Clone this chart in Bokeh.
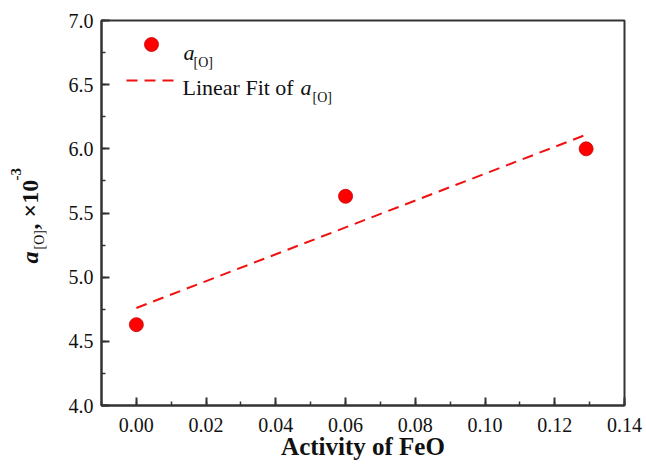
from math import pi
from bokeh.plotting import figure
from bokeh.layouts import row
from bokeh.models import Range1d, SingleIntervalTicker, NumeralTickFormatter, Label
from bokeh.embed import file_html
from bokeh.resources import INLINE

# ---- data ----
activity_feo = [0.0, 0.06, 0.129]
a_o = [4.63, 5.63, 6.00]
fit_x = [0.0, 0.129]
fit_y = [4.76, 6.11]
x_limits = [-0.01, 0.14]
y_limits = [4.0, 7.0]
x_title = "Activity of FeO"
legend_point = "a"
legend_fit = "Linear Fit of "
subscript = "[O]"
y_title_parts = ["a", "[O]", ", \u00d710", "-3"]

SERIF = "Liberation Serif"
RED = "#F01010"
AXIS = "#333333"
INK = "#111111"

# frame edges in picture pixels
FL, FR, FT, FB = 101, 624, 20, 405
W, H = 646, 473
TW = 56  # width of the strip holding the y-axis title

# ---- strip with the rotated y-axis title ----
t = figure(width=TW, height=H, output_backend="svg", toolbar_location=None,
           x_range=Range1d(0, 1), y_range=Range1d(0, 1),
           x_axis_location=None, y_axis_location=None,
           min_border_left=0, min_border_right=0, min_border_top=0,
           min_border_bottom=0)
t.outline_line_color = None
t.xgrid.visible = False
t.ygrid.visible = False

XS = -7  # measured shift of the strip's x origin

def tlab(text, px, py, size, style):
    t.add_layout(Label(x=px + XS, y=FB - py, x_units="screen", y_units="screen",
                       text=text, text_font=SERIF, text_font_size=f"{size}px",
                       text_font_style=style, text_color=INK,
                       text_baseline="alphabetic", text_align="left",
                       angle=pi / 2))

tlab(y_title_parts[0], 36, 263, 24, "bold italic")
tlab(y_title_parts[1], 46, 249, 14, "normal")
tlab(y_title_parts[2], 36, 229, 24, "bold")
tlab(y_title_parts[3], 22, 180, 15, "bold")

# ---- main plot ----
p = figure(width=W - TW, height=H, output_backend="svg", toolbar_location=None,
           x_range=Range1d(*x_limits), y_range=Range1d(*y_limits),
           min_border_left=FL - TW, min_border_right=W - FR, min_border_top=FT,
           min_border_bottom=H - FB)
p.xgrid.visible = False
p.ygrid.visible = False
p.outline_line_color = AXIS
p.outline_line_width = 2
p.outline_line_alpha = 1.0

p.xaxis.ticker = SingleIntervalTicker(interval=0.02, num_minor_ticks=2)
p.yaxis.ticker = SingleIntervalTicker(interval=0.5, num_minor_ticks=2)
p.xaxis.formatter = NumeralTickFormatter(format="0.00")
p.yaxis.formatter = NumeralTickFormatter(format="0.0")
for ax in (p.xaxis, p.yaxis):
    ax.axis_line_color = AXIS
    ax.axis_line_width = 2
    ax.major_tick_in = 8
    ax.major_tick_out = 0
    ax.minor_tick_in = 4
    ax.minor_tick_out = 0
    ax.major_tick_line_color = AXIS
    ax.minor_tick_line_color = AXIS
    ax.major_tick_line_width = 2
    ax.minor_tick_line_width = 1.5
    ax.major_label_text_font = SERIF
    ax.major_label_text_font_size = "20px"
    ax.major_label_text_color = INK
p.xaxis.major_label_standoff = 12
p.yaxis.major_label_standoff = 8
p.xaxis.axis_label = x_title
p.xaxis.axis_label_text_font = SERIF
p.xaxis.axis_label_text_font_size = "25px"
p.xaxis.axis_label_text_font_style = "bold"
p.xaxis.axis_label_text_color = INK
p.xaxis.axis_label_standoff = -2

# ---- data glyphs ----
p.line(fit_x, fit_y, line_color=RED, line_width=2, line_dash="11 7")
p.scatter(activity_feo, a_o, size=14, fill_color="#FF0000", line_color="#C00000",
          line_width=0.8)

# ---- helpers: picture pixels -> data units ----
def dx(px):
    return x_limits[0] + (px - FL) * (x_limits[1] - x_limits[0]) / (FR - FL)
def dy(py):
    return y_limits[1] - (py - FT) * (y_limits[1] - y_limits[0]) / (FB - FT)

def lab(text, px, py, size, style="normal"):
    p.add_layout(Label(x=dx(px), y=dy(py), text=text, text_font=SERIF,
                       text_font_size=f"{size}px", text_font_style=style,
                       text_color=INK, text_baseline="alphabetic",
                       text_align="left"))

# ---- legend (manual, to allow italic / subscript) ----
p.scatter([dx(151)], [dy(44)], size=14, fill_color="#FF0000", line_color="#C00000",
          line_width=0.8)
p.line([dx(126), dx(173)], [dy(80), dy(80)], line_color=RED, line_width=2,
       line_dash="11 7")
lab(legend_point, 183, 52, 22, "italic")
lab(subscript, 193, 62, 14)
lab(legend_fit, 182, 87, 22)
lab(legend_point, 300, 87, 22, "italic")
lab(subscript, 312, 97, 14)

layout = row(t, p, spacing=0)
open("out.html", "w").write(file_html(layout, INLINE))
